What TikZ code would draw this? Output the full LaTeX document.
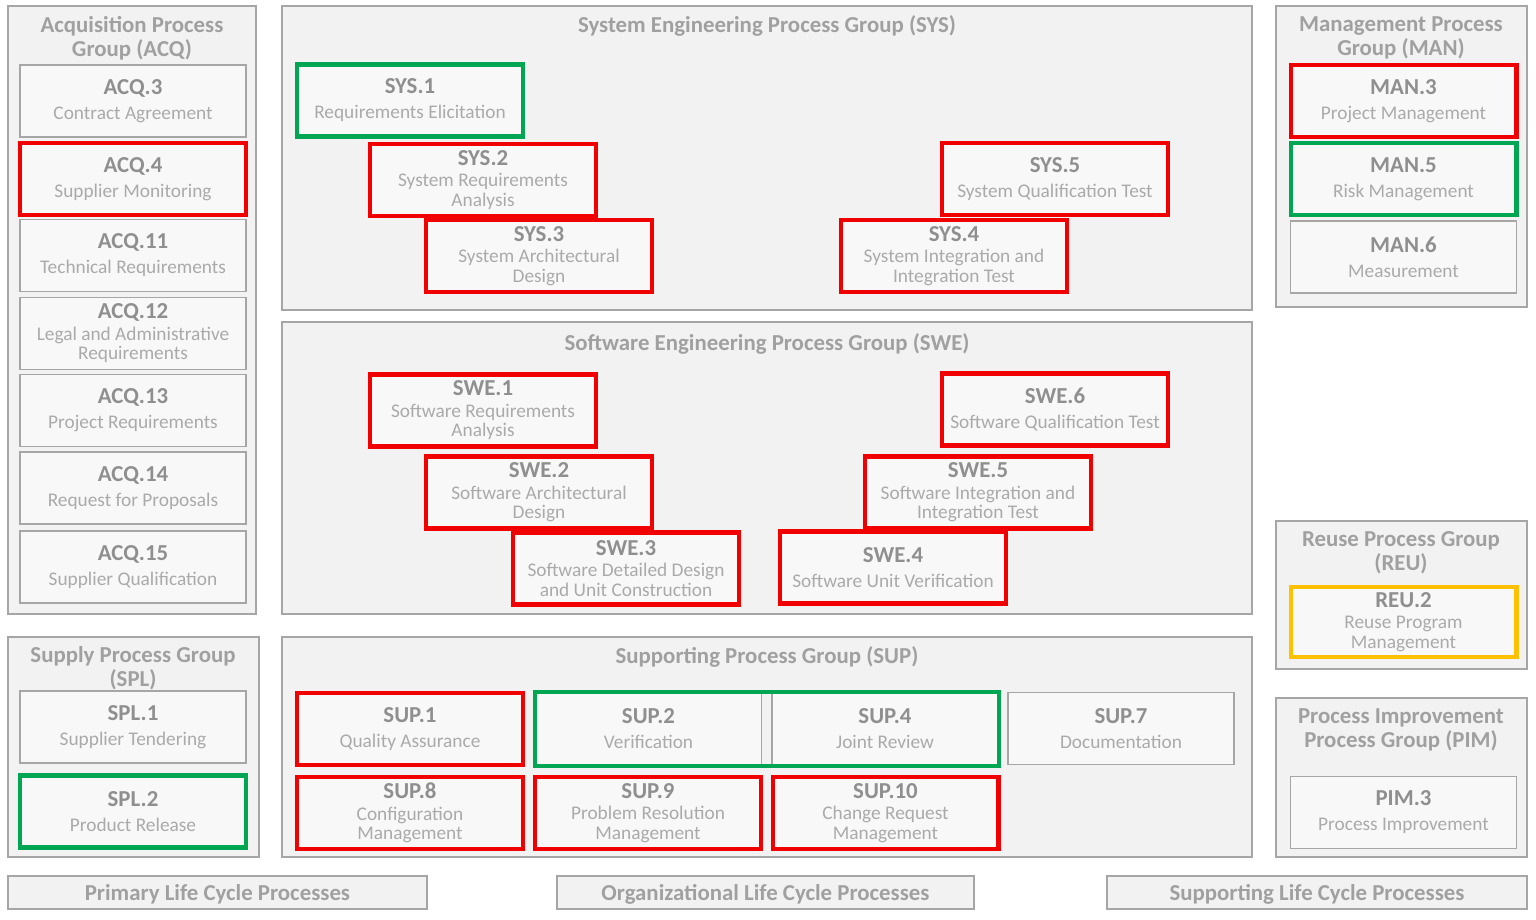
\documentclass[tikz,border=0pt]{standalone}
\usepackage{fontspec}
\setmainfont{Carlito}
\usetikzlibrary{fit}

\definecolor{frame}{HTML}{A6A6A6}
\definecolor{grpfill}{HTML}{F2F2F2}
\definecolor{boxfill}{HTML}{F8F8F8}
\definecolor{titlegray}{HTML}{A0A0A0}
\definecolor{codegray}{HTML}{8F8F8F}
\definecolor{descgray}{HTML}{AAAAAA}
\definecolor{hlred}{HTML}{F00000}
\definecolor{hlgreen}{HTML}{00A651}
\definecolor{hlamber}{HTML}{FFC000}

\newcommand{\pid}[1]{{\fontsize{13}{14}\selectfont\bfseries\color{codegray}#1}}

\begin{document}
\begin{tikzpicture}[x=0.02cm, y=-0.02cm,
  grp/.style={draw=frame, line width=0.9pt, fill=grpfill},
  grptitle/.style={font=\fontsize{13}{13.6}\selectfont\bfseries, text=titlegray, align=center, inner sep=0pt},
  box/.style={draw=frame, line width=0.9pt, fill=boxfill, minimum width=4.52cm, minimum height=1.44cm,
    inner sep=0pt, align=center, font=\fontsize{11}{11.2}\selectfont, text=descgray},
  redbox/.style={box, draw=hlred, line width=2.3pt},
  greenbox/.style={box, draw=hlgreen, line width=2.3pt},
  amberbox/.style={box, draw=hlamber, line width=2.3pt},
  lcbar/.style={draw=frame, line width=0.9pt, fill=grpfill, minimum height=0.66cm, inner sep=0pt,
    text height=9pt, text depth=0pt, font=\fontsize{13}{14}\selectfont\bfseries, text=titlegray}]

\useasboundingbox (0,0) rectangle (1536,920);

% ===== LEFT: Acquisition =====
\draw[grp] (8,6) rectangle (256,614);
\node[grptitle] (acqtitle) at (132,38) {Acquisition Process\\Group (ACQ)};
\node[box] (acq3) at (133,101) {\pid{ACQ.3}\\[3pt]Contract Agreement};
\node[redbox] (acq4) at (133,179) {\pid{ACQ.4}\\[3pt]Supplier Monitoring};
\node[box] (acq11) at (133,255.5) {\pid{ACQ.11}\\[3pt]Technical Requirements};
\node[box] (acq12) at (133,333.5) {\pid{ACQ.12}\\[1pt]Legal and Administrative\\Requirements};
\node[box] (acq13) at (133,410.5) {\pid{ACQ.13}\\[3pt]Project Requirements};
\node[box] (acq14) at (133,488) {\pid{ACQ.14}\\[3pt]Request for Proposals};
\node[box] (acq15) at (133,567) {\pid{ACQ.15}\\[3pt]Supplier Qualification};

% ===== CENTRE: System engineering =====
\draw[grp] (282,6) rectangle (1252,310);
\node[grptitle] (systitle) at (767,26) {System Engineering Process Group (SYS)};
\node[greenbox] (sys1) at (410,100.5) {\pid{SYS.1}\\[3pt]Requirements Elicitation};
\node[redbox] (sys2) at (483,180) {\pid{SYS.2}\\[1pt]System Requirements\\Analysis};
\node[redbox] (sys3) at (539,256) {\pid{SYS.3}\\[1pt]System Architectural\\Design};
\node[redbox] (sys5) at (1055,179) {\pid{SYS.5}\\[3pt]System Qualification Test};
\node[redbox] (sys4) at (954,256) {\pid{SYS.4}\\[1pt]System Integration and\\Integration Test};

% ===== CENTRE: Software engineering =====
\draw[grp] (282,322) rectangle (1252,614);
\node[grptitle] (swetitle) at (767,344) {Software Engineering Process Group (SWE)};
\node[redbox] (swe1) at (483,410.5) {\pid{SWE.1}\\[1pt]Software Requirements\\Analysis};
\node[redbox] (swe2) at (539,492.5) {\pid{SWE.2}\\[1pt]Software Architectural\\Design};
\node[redbox] (swe3) at (626,568.5) {\pid{SWE.3}\\[1pt]Software Detailed Design\\and Unit Construction};
\node[redbox] (swe6) at (1055,409.5) {\pid{SWE.6}\\[3pt]Software Qualification Test};
\node[redbox] (swe5) at (978,492.5) {\pid{SWE.5}\\[1pt]Software Integration and\\Integration Test};
\node[redbox] (swe4) at (893,567.5) {\pid{SWE.4}\\[3pt]Software Unit Verification};

% ===== RIGHT: Management =====
\draw[grp] (1276,6) rectangle (1527,307);
\node[grptitle] (mantitle) at (1401,38) {Management Process\\Group (MAN)};
\node[redbox] (man3) at (1403.5,101) {\pid{MAN.3}\\[3pt]Project Management};
\node[greenbox] (man5) at (1403.5,179) {\pid{MAN.5}\\[3pt]Risk Management};
\node[box] (man6) at (1403.5,257) {\pid{MAN.6}\\[3pt]Measurement};

% ===== LEFT: Supply =====
\draw[grp] (8,637) rectangle (259,857);
\node[grptitle] (spltitle) at (133,668) {Supply Process Group\\(SPL)};
\node[box] (spl1) at (133,727) {\pid{SPL.1}\\[3pt]Supplier Tendering};
\node[greenbox] (spl2) at (133,811.5) {\pid{SPL.2}\\[3pt]Product Release};

% ===== CENTRE: Supporting =====
\draw[grp] (282,637) rectangle (1252,857);
\node[grptitle] (suptitle) at (767,657) {Supporting Process Group (SUP)};
\node[redbox] (sup1) at (410,729) {\pid{SUP.1}\\[3pt]Quality Assurance};
\node[box] (sup2) at (648.5,729) {\pid{SUP.2}\\[3pt]Verification};
\node[box] (sup4) at (885,729) {\pid{SUP.4}\\[3pt]Joint Review};
\node[greenbox, fill=none, fit=(sup2)(sup4), inner sep=0pt] (verif) {};
\node[box] (sup7) at (1121,728.5) {\pid{SUP.7}\\[3pt]Documentation};
\node[redbox] (sup8) at (410,813) {\pid{SUP.8}\\[1pt]Configuration\\Management};
\node[redbox] (sup9) at (648,813) {\pid{SUP.9}\\[1pt]Problem Resolution\\Management};
\node[redbox] (sup10) at (885.5,813) {\pid{SUP.10}\\[1pt]Change Request\\Management};

% ===== RIGHT: Reuse and improvement =====
\draw[grp] (1276,521) rectangle (1527,669);
\node[grptitle] (reutitle) at (1401,553) {Reuse Process Group\\(REU)};
\node[amberbox, minimum height=1.4cm] (reu2) at (1403.5,622) {\pid{REU.2}\\[1pt]Reuse Program\\Management};
\draw[grp] (1276,698) rectangle (1527,857);
\node[grptitle] (pimtitle) at (1401,730) {Process Improvement\\Process Group (PIM)};
\node[box] (pim3) at (1403.5,812.5) {\pid{PIM.3}\\[3pt]Process Improvement};

% ===== BOTTOM: life cycle bars =====
\node[lcbar, minimum width=8.38cm] (primary) at (217.5,892.5) {Primary Life Cycle Processes};
\node[lcbar, minimum width=8.34cm] (organiz) at (765.5,892.5) {Organizational Life Cycle Processes};
\node[lcbar, minimum width=8.4cm] (support) at (1317,892.5) {Supporting Life Cycle Processes};

\end{tikzpicture}
\end{document}
